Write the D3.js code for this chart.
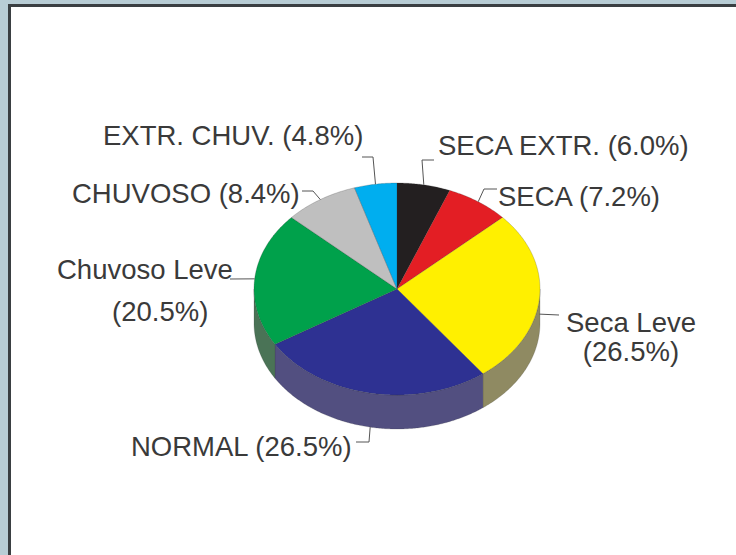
<!DOCTYPE html>
<html>
<head>
<meta charset="utf-8">
<script src="https://cdn.jsdelivr.net/npm/d3@7"></script>
<style>
  html, body { margin: 0; padding: 0; background: #b8cdd5; }
  svg { display: block; }
</style>
</head>
<body>
<svg id="chart" width="736" height="555"></svg>
<script>
// ---- data ----
const categories = ["SECA EXTR.", "SECA", "Seca Leve", "NORMAL", "Chuvoso Leve", "CHUVOSO", "EXTR. CHUV."];
const values = [6.0, 7.2, 26.5, 26.5, 20.5, 8.4, 4.8];

// ---- styles ----
const topColors  = ["#231f20", "#e31e24", "#fff000", "#2e3192", "#00a14b", "#bfbfbf", "#00aeef"];
const sideColors = ["#1a1a1a", "#8a2020", "#8f8a62", "#524f80", "#4a7356", "#8a8a8a", "#2a7da0"];

// ---- layout ----
const W = 736, H = 555;
const cx = 397, cy = 289, rx = 143, ry = 106, depth = 34;

// label layout: text x/anchor, baselines, leader (text-side points), pie attach depth fraction
const labelLayout = [
  { lines: [0], x: 438, anchor: "start", ys: [155], leader: [[434,160],[422,160]], dfrac: 0 },
  { lines: [0], x: 498, anchor: "start", ys: [206], leader: [[497,189],[484,189]], dfrac: 0 },
  { lines: [1,2], x: 631, anchor: "middle", ys: [332,361], leader: [[559,315]], dfrac: 0.45 },
  { lines: [0], x: 131, anchor: "start", ys: [456], leader: [[356,442],[369,442]], dfrac: 1 },
  { lines: [1,2], x: [57,112], anchor: "start", ys: [279,321], leader: [[230,279]], dfrac: 0 },
  { lines: [0], x: 72, anchor: "start", ys: [203], leader: [[302,191],[313,191]], dfrac: 0 },
  { lines: [0], x: 103, anchor: "start", ys: [145], leader: [[362,157],[373,157]], dfrac: 0 }
];

const svg = d3.select("#chart");

// frame
svg.append("rect").attr("x", 0).attr("y", 0).attr("width", W).attr("height", H).attr("fill", "#b8cdd5");
svg.append("rect").attr("x", 8).attr("y", 4).attr("width", W - 8).attr("height", H - 4).attr("fill", "#3a3f42");
svg.append("rect").attr("x", 11).attr("y", 7).attr("width", W - 11).attr("height", H - 7).attr("fill", "#ffffff");

// pie angles
const pie = d3.pie().value(d => d).sort(null).startAngle(0).endAngle(2 * Math.PI);
const arcs = pie(values);

const px = a => cx + rx * Math.sin(a);
const py = (a, dz) => cy - ry * Math.cos(a) + (dz || 0);

const line = d3.line();
function arcPoints(a0, a1, dz) {
  const n = Math.max(2, Math.ceil(Math.abs(a1 - a0) / 0.01));
  return d3.range(n + 1).map(i => {
    const a = a0 + (a1 - a0) * i / n;
    return [px(a), py(a, dz)];
  });
}

const g = svg.append("g");

// sides (front half only)
arcs.forEach((d, i) => {
  const a0 = Math.max(d.startAngle, Math.PI / 2);
  const a1 = Math.min(d.endAngle, 3 * Math.PI / 2);
  if (a1 <= a0) return;
  const pts = arcPoints(a0, a1, 0).concat(arcPoints(a1, a0, depth));
  g.append("path")
    .attr("d", line(pts) + "Z")
    .attr("fill", sideColors[i])
    .attr("stroke", "#3a3a3a")
    .attr("stroke-width", 0.4)
    .attr("stroke-opacity", 0.5);
});

// top faces
arcs.forEach((d, i) => {
  const pts = [[cx, cy]].concat(arcPoints(d.startAngle, d.endAngle, 0));
  g.append("path")
    .attr("d", line(pts) + "Z")
    .attr("fill", topColors[i])
    .attr("stroke", "#333")
    .attr("stroke-width", 0.5)
    .attr("stroke-opacity", 0.45)
    .attr("stroke-linejoin", "round");
});

// labels
const fmt = v => "(" + v.toFixed(1) + "%)";
const labelsG = svg.append("g")
  .attr("font-family", "'Liberation Sans', Arial, Helvetica, sans-serif")
  .attr("font-size", 27.5)
  .attr("fill", "#3a3a3a");

arcs.forEach((d, i) => {
  const L = labelLayout[i];
  const mid = (d.startAngle + d.endAngle) / 2;
  const end = [px(mid), py(mid, depth * L.dfrac)];
  const pts = L.leader.concat([end]);
  svg.append("path")
    .attr("d", line(pts))
    .attr("fill", "none")
    .attr("stroke", "#555")
    .attr("stroke-width", 1);

  let texts;
  if (L.lines.length === 1) texts = [categories[i] + " " + fmt(values[i])];
  else texts = [categories[i], fmt(values[i])];
  texts.forEach((t, k) => {
    labelsG.append("text")
      .attr("x", Array.isArray(L.x) ? L.x[k] : L.x)
      .attr("y", L.ys[k])
      .attr("text-anchor", L.anchor)
      .text(t);
  });
});
</script>
</body>
</html>
